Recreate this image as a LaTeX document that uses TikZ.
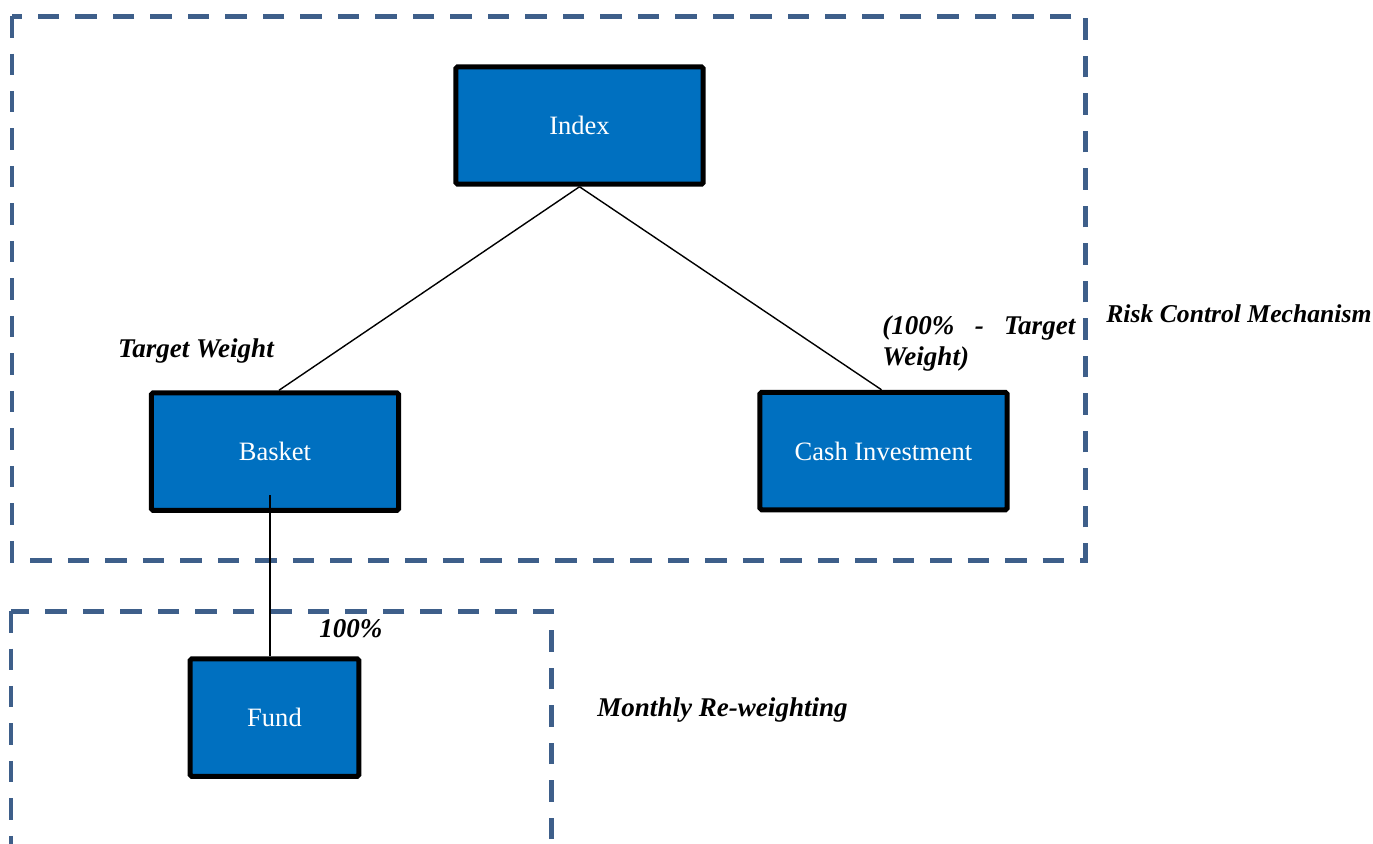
\documentclass[tikz,border=0pt]{standalone}
\usepackage{fontspec}
\setmainfont{Liberation Serif}
\usepackage{xcolor}
\usetikzlibrary{calc}
\definecolor{boxblue}{HTML}{0070C0}
\definecolor{frameblue}{HTML}{3E5F8A}

\begin{document}
\begin{tikzpicture}[
    x=0.02cm, y=-0.02cm,
    main box/.style={draw=black, line width=0.1cm, fill=boxblue, text=white,
        rounded corners=1pt, minimum width=4.95cm, minimum height=2.35cm,
        font=\fontsize{15.1}{17}\selectfont},
    frame line/.style={draw=frameblue, line width=0.1cm,
        dash pattern=on 0.43cm off 0.32cm},
    link line/.style={line width=0.8pt},
    weight label/.style={inner sep=0pt,
        font=\fontsize{15.4}{18}\selectfont\bfseries\itshape}
    ]
    \useasboundingbox (0,0) rectangle (1373,843);
    % Frames
    \draw[frame line] (12,16) rectangle (1085,560);
    \draw[frame line] (11,611) rectangle (551,905);
    % Boxes
    \node[main box] (index) at (579.5,125.5) {Index};
    \node[main box] (basket) at (275,451.5) {Basket};
    \node[main box] (cash) at (883.5,451) {Cash Investment};
    \node[main box, minimum width=3.38cm] (fund) at (274.5,717.5) {Fund};
    % Lines
    \draw[link line] (index.south) -- ($(basket.north)+(4,0)$);
    \draw[link line] (index.south) -- ($(cash.north)+(-2,0)$);
    \coordinate (basket foot) at (270,495);
    \draw[link line] (basket foot) -- (basket foot |- fund.north);
    % Labels
    \node[weight label, anchor=base] (target) at (196,357) {Target Weight};
    \node[weight label, anchor=base west, text width=3.86cm, align=justify]
        (rest) at (882,334) {(100\% - Target Weight)};
    \node[weight label, anchor=base west, font=\fontsize{14.6}{17}\selectfont\bfseries\itshape]
        (risk) at (1106,322) {Risk Control Mechanism};
    \node[weight label, anchor=base west] (full) at (319,637) {100\%};
    \node[weight label, anchor=base west] (monthly) at (597,716)
        {Monthly Re-weighting};
\end{tikzpicture}
\end{document}
